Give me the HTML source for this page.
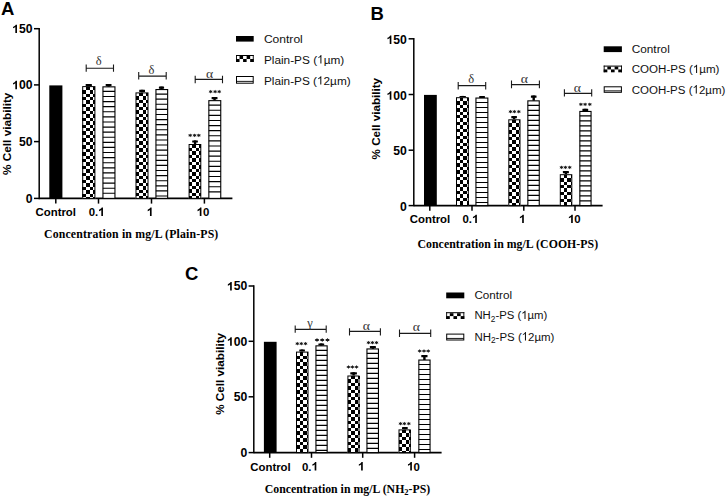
<!DOCTYPE html><html><head><meta charset="utf-8"><style>html,body{margin:0;padding:0;background:#fff;overflow:hidden}svg{display:block}</style></head><body>
<svg width="727" height="496" viewBox="0 0 727 496" shape-rendering="auto">
<rect width="727" height="496" fill="#fff"/>
<defs></defs>
<g>
<text x="1" y="14.6" font-family='"Liberation Sans", sans-serif' font-weight="bold" font-size="18.5">A</text>
<line x1="39.2" y1="27.95" x2="39.2" y2="199.15" stroke="#000" stroke-width="1.5"/>
<line x1="34" y1="198.4" x2="39.2" y2="198.4" stroke="#000" stroke-width="1.5"/>
<text x="25.715" y="202.8" font-family='"Liberation Sans", sans-serif' font-weight="bold" fill="#000" style="font-kerning:none"><tspan font-size="12.2">0</tspan></text>
<line x1="34" y1="141.6" x2="39.2" y2="141.6" stroke="#000" stroke-width="1.5"/>
<text x="18.93" y="146" font-family='"Liberation Sans", sans-serif' font-weight="bold" fill="#000" style="font-kerning:none"><tspan font-size="12.2">50</tspan></text>
<line x1="34" y1="84.9" x2="39.2" y2="84.9" stroke="#000" stroke-width="1.5"/>
<text x="12.145" y="89.3" font-family='"Liberation Sans", sans-serif' font-weight="bold" fill="#000" style="font-kerning:none"><tspan font-size="12.2"> 00</tspan></text><path transform="translate(12.145,89.3) scale(0.006,-0.006)" d="M806 0L530 0L530 1000Q380 865 152 790L152 1030Q272 1070 410 1175Q548 1280 600 1409L806 1409Z" fill="#000"/>
<line x1="34" y1="28.7" x2="39.2" y2="28.7" stroke="#000" stroke-width="1.5"/>
<text x="12.145" y="33.1" font-family='"Liberation Sans", sans-serif' font-weight="bold" fill="#000" style="font-kerning:none"><tspan font-size="12.2"> 50</tspan></text><path transform="translate(12.145,33.1) scale(0.006,-0.006)" d="M806 0L530 0L530 1000Q380 865 152 790L152 1030Q272 1070 410 1175Q548 1280 600 1409L806 1409Z" fill="#000"/>
<line x1="39.2" y1="198.4" x2="232.4" y2="198.4" stroke="#000" stroke-width="1.6"/>
<line x1="55.8" y1="198.4" x2="55.8" y2="203.6" stroke="#000" stroke-width="1.5"/>
<line x1="98.5" y1="198.4" x2="98.5" y2="203.6" stroke="#000" stroke-width="1.5"/>
<line x1="151.5" y1="198.4" x2="151.5" y2="203.6" stroke="#000" stroke-width="1.5"/>
<line x1="204.4" y1="198.4" x2="204.4" y2="203.6" stroke="#000" stroke-width="1.5"/>
<text x="35.488" y="215.9" font-family='"Liberation Sans", sans-serif' font-weight="bold" fill="#000" style="font-kerning:none"><tspan font-size="11.4">Control</tspan></text>
<text x="88.626" y="215.9" font-family='"Liberation Sans", sans-serif' font-weight="bold" fill="#000" style="font-kerning:none"><tspan font-size="11.4">0. </tspan></text><path transform="translate(98.134,215.9) scale(0.006,-0.006)" d="M806 0L530 0L530 1000Q380 865 152 790L152 1030Q272 1070 410 1175Q548 1280 600 1409L806 1409Z" fill="#000"/>
<text x="146.78" y="215.9" font-family='"Liberation Sans", sans-serif' font-weight="bold" fill="#000" style="font-kerning:none"><tspan font-size="11.4"> </tspan></text><path transform="translate(146.78,215.9) scale(0.006,-0.006)" d="M806 0L530 0L530 1000Q380 865 152 790L152 1030Q272 1070 410 1175Q548 1280 600 1409L806 1409Z" fill="#000"/>
<text x="196.61" y="215.9" font-family='"Liberation Sans", sans-serif' font-weight="bold" fill="#000" style="font-kerning:none"><tspan font-size="11.4"> 0</tspan></text><path transform="translate(196.61,215.9) scale(0.006,-0.006)" d="M806 0L530 0L530 1000Q380 865 152 790L152 1030Q272 1070 410 1175Q548 1280 600 1409L806 1409Z" fill="#000"/>
<text x="44" y="238.1" textLength="174.3" lengthAdjust="spacing" font-family='"Liberation Serif", serif' font-weight="bold" font-size="11.8">Concentration in mg/L (Plain-PS)</text>
<text transform="translate(11.3,174.9) rotate(-90)" x="0" y="0" textLength="82.3" lengthAdjust="spacingAndGlyphs" font-family='"Liberation Sans", sans-serif' font-weight="bold" font-size="11.7">% Cell viability</text>
<rect x="49.3" y="85.4" width="13.1" height="113" fill="#000"/>
<rect x="87.6" y="84.1" width="2.4" height="2.5" fill="#000"/>
<rect x="85.7" y="84.1" width="6.2" height="2.2" rx="0.3" fill="#000"/>
<rect x="82.2" y="86.1" width="13.2" height="112.3" fill="#fff"/>
<path d="M86 87H90V90H86ZM93 87H95V90H93ZM82 90H86V94H82ZM90 90H93V94H90ZM86 94H90V97H86ZM93 94H95V97H93ZM82 97H86V100H82ZM90 97H93V100H90ZM86 100H90V104H86ZM93 100H95V104H93ZM82 104H86V107H82ZM90 104H93V107H90ZM86 107H90V111H86ZM93 107H95V111H93ZM82 111H86V114H82ZM90 111H93V114H90ZM86 114H90V118H86ZM93 114H95V118H93ZM82 118H86V121H82ZM90 118H93V121H90ZM86 121H90V125H86ZM93 121H95V125H93ZM82 125H86V128H82ZM90 125H93V128H90ZM86 128H90V131H86ZM93 128H95V131H93ZM82 131H86V135H82ZM90 131H93V135H90ZM86 135H90V138H86ZM93 135H95V138H93ZM82 138H86V142H82ZM90 138H93V142H90ZM86 142H90V145H86ZM93 142H95V145H93ZM82 145H86V149H82ZM90 145H93V149H90ZM86 149H90V152H86ZM93 149H95V152H93ZM82 152H86V156H82ZM90 152H93V156H90ZM86 156H90V159H86ZM93 156H95V159H93ZM82 159H86V162H82ZM90 159H93V162H90ZM86 162H90V166H86ZM93 162H95V166H93ZM82 166H86V169H82ZM90 166H93V169H90ZM86 169H90V173H86ZM93 169H95V173H93ZM82 173H86V176H82ZM90 173H93V176H90ZM86 176H90V180H86ZM93 176H95V180H93ZM82 180H86V183H82ZM90 180H93V183H90ZM86 183H90V187H86ZM93 183H95V187H93ZM82 187H86V190H82ZM90 187H93V190H90ZM86 190H90V194H86ZM93 190H95V194H93ZM82 194H86V197H82ZM90 194H93V197H90ZM86 197H90V198H86ZM93 197H95V198H93Z" fill="#000" shape-rendering="crispEdges"/>
<rect x="82.7" y="86.6" width="12.2" height="111.8" fill="none" stroke="#000" stroke-width="1"/>
<rect x="107.4" y="84.1" width="2.4" height="2.7" fill="#000"/>
<rect x="105.7" y="84.1" width="5.8" height="2.2" rx="0.3" fill="#000"/>
<rect x="102.95" y="86.85" width="12" height="111.55" fill="#fff" stroke="#000" stroke-width="1.1"/>
<path d="M102.9 91.39H115M102.9 96.49H115M102.9 101.58H115M102.9 106.68H115M102.9 111.77H115M102.9 116.87H115M102.9 121.96H115M102.9 127.06H115M102.9 132.16H115M102.9 137.25H115M102.9 142.34H115M102.9 147.44H115M102.9 152.53H115M102.9 157.63H115M102.9 162.72H115M102.9 167.82H115M102.9 172.91H115M102.9 178.01H115M102.9 183.1H115M102.9 188.2H115M102.9 193.29H115" stroke="#000" stroke-width="1.15"/>
<rect x="140.9" y="89.8" width="2.4" height="3.1" fill="#000"/>
<rect x="139.2" y="89.8" width="5.8" height="2.2" rx="0.3" fill="#000"/>
<rect x="135.5" y="92.4" width="13" height="106" fill="#fff"/>
<path d="M139 93H143V96H139ZM146 93H148V96H146ZM136 96H139V100H136ZM143 96H146V100H143ZM139 100H143V103H139ZM146 100H148V103H146ZM136 103H139V107H136ZM143 103H146V107H143ZM139 107H143V110H139ZM146 107H148V110H146ZM136 110H139V114H136ZM143 110H146V114H143ZM139 114H143V117H139ZM146 114H148V117H146ZM136 117H139V120H136ZM143 117H146V120H143ZM139 120H143V124H139ZM146 120H148V124H146ZM136 124H139V127H136ZM143 124H146V127H143ZM139 127H143V131H139ZM146 127H148V131H146ZM136 131H139V134H136ZM143 131H146V134H143ZM139 134H143V138H139ZM146 134H148V138H146ZM136 138H139V141H136ZM143 138H146V141H143ZM139 141H143V145H139ZM146 141H148V145H146ZM136 145H139V148H136ZM143 145H146V148H143ZM139 148H143V152H139ZM146 148H148V152H146ZM136 152H139V155H136ZM143 152H146V155H143ZM139 155H143V158H139ZM146 155H148V158H146ZM136 158H139V162H136ZM143 158H146V162H143ZM139 162H143V165H139ZM146 162H148V165H146ZM136 165H139V169H136ZM143 165H146V169H143ZM139 169H143V172H139ZM146 169H148V172H146ZM136 172H139V176H136ZM143 172H146V176H143ZM139 176H143V179H139ZM146 176H148V179H146ZM136 179H139V183H136ZM143 179H146V183H143ZM139 183H143V186H139ZM146 183H148V186H146ZM136 186H139V190H136ZM143 186H146V190H143ZM139 190H143V193H139ZM146 190H148V193H146ZM136 193H139V196H136ZM143 193H146V196H143ZM139 196H143V198H139ZM146 196H148V198H146Z" fill="#000" shape-rendering="crispEdges"/>
<rect x="136" y="92.9" width="12" height="105.5" fill="none" stroke="#000" stroke-width="1"/>
<rect x="160.3" y="86.6" width="2.4" height="2.9" fill="#000"/>
<rect x="158.9" y="86.6" width="5.2" height="2.2" rx="0.3" fill="#000"/>
<rect x="155.95" y="89.55" width="11.7" height="108.85" fill="#fff" stroke="#000" stroke-width="1.1"/>
<path d="M155.9 94.09H167.7M155.9 99.19H167.7M155.9 104.28H167.7M155.9 109.38H167.7M155.9 114.47H167.7M155.9 119.57H167.7M155.9 124.66H167.7M155.9 129.76H167.7M155.9 134.85H167.7M155.9 139.95H167.7M155.9 145.04H167.7M155.9 150.14H167.7M155.9 155.23H167.7M155.9 160.33H167.7M155.9 165.42H167.7M155.9 170.52H167.7M155.9 175.61H167.7M155.9 180.71H167.7M155.9 185.8H167.7M155.9 190.9H167.7M155.9 195.99H167.7" stroke="#000" stroke-width="1.15"/>
<rect x="193.85" y="140.4" width="2.4" height="4.1" fill="#000"/>
<rect x="192.2" y="140.4" width="5.7" height="2.2" rx="0.3" fill="#000"/>
<rect x="188.6" y="144" width="12.7" height="54.4" fill="#fff"/>
<path d="M192 144H196V148H192ZM199 144H201V148H199ZM189 148H192V151H189ZM196 148H199V151H196ZM192 151H196V155H192ZM199 151H201V155H199ZM189 155H192V158H189ZM196 155H199V158H196ZM192 158H196V162H192ZM199 158H201V162H199ZM189 162H192V165H189ZM196 162H199V165H196ZM192 165H196V169H192ZM199 165H201V169H199ZM189 169H192V172H189ZM196 169H199V172H196ZM192 172H196V176H192ZM199 172H201V176H199ZM189 176H192V179H189ZM196 176H199V179H196ZM192 179H196V182H192ZM199 179H201V182H199ZM189 182H192V186H189ZM196 182H199V186H196ZM192 186H196V189H192ZM199 186H201V189H199ZM189 189H192V193H189ZM196 189H199V193H196ZM192 193H196V196H192ZM199 193H201V196H199ZM189 196H192V198H189ZM196 196H199V198H196Z" fill="#000" shape-rendering="crispEdges"/>
<rect x="189.1" y="144.5" width="11.7" height="53.9" fill="none" stroke="#000" stroke-width="1"/>
<rect x="213.35" y="97" width="2.4" height="3.6" fill="#000"/>
<rect x="211.6" y="97" width="5.9" height="2.2" rx="0.3" fill="#000"/>
<rect x="208.85" y="100.65" width="11.9" height="97.75" fill="#fff" stroke="#000" stroke-width="1.1"/>
<path d="M208.8 105.19H220.8M208.8 110.29H220.8M208.8 115.38H220.8M208.8 120.48H220.8M208.8 125.57H220.8M208.8 130.67H220.8M208.8 135.76H220.8M208.8 140.86H220.8M208.8 145.95H220.8M208.8 151.05H220.8M208.8 156.14H220.8M208.8 161.24H220.8M208.8 166.33H220.8M208.8 171.43H220.8M208.8 176.52H220.8M208.8 181.62H220.8M208.8 186.71H220.8M208.8 191.81H220.8" stroke="#000" stroke-width="1.15"/>
<path d="M86.2 68.3H113.5M86.2 64.4V71.8M113.5 64.4V71.8" stroke="#1a1a1a" stroke-width="1.1" fill="none"/>
<text x="98.6" y="65" text-anchor="middle" font-family='"Liberation Serif", serif' font-size="12.5" fill="#333">δ</text>
<path d="M138.7 76.1H166.2M138.7 72.1V79.6M166.2 72.1V79.6" stroke="#1a1a1a" stroke-width="1.1" fill="none"/>
<text x="151.5" y="73.8" text-anchor="middle" font-family='"Liberation Serif", serif' font-size="12.5" fill="#333">δ</text>
<path d="M195.2 79.4H222.5M195.2 75.7V83.3M222.5 75.7V83.3" stroke="#1a1a1a" stroke-width="1.1" fill="none"/>
<text transform="translate(209.6,77.9) scale(1.18,1)" x="0" y="0" text-anchor="middle" font-family='"Liberation Serif", serif' font-size="11.6" fill="#333">α</text>
<polygon points="190.2,133.41 190.82,134.44 192.24,134.36 191.43,135.3 192.24,136.25 190.82,136.16 190.2,137.19 189.58,136.16 188.16,136.25 188.97,135.3 188.16,134.36 189.58,134.44" fill="#1a1a1a"/>
<polygon points="194.6,133.41 195.22,134.44 196.64,134.36 195.83,135.3 196.64,136.25 195.22,136.16 194.6,137.19 193.98,136.16 192.56,136.25 193.37,135.3 192.56,134.36 193.98,134.44" fill="#1a1a1a"/>
<polygon points="198.8,133.41 199.42,134.44 200.84,134.36 200.03,135.3 200.84,136.25 199.42,136.16 198.8,137.19 198.18,136.16 196.76,136.25 197.57,135.3 196.76,134.36 198.18,134.44" fill="#1a1a1a"/>
<polygon points="210.7,89.71 211.32,90.74 212.74,90.66 211.93,91.6 212.74,92.54 211.32,92.46 210.7,93.49 210.08,92.46 208.66,92.54 209.47,91.6 208.66,90.66 210.08,90.74" fill="#1a1a1a"/>
<polygon points="215.1,89.71 215.72,90.74 217.14,90.66 216.33,91.6 217.14,92.54 215.72,92.46 215.1,93.49 214.48,92.46 213.06,92.54 213.87,91.6 213.06,90.66 214.48,90.74" fill="#1a1a1a"/>
<polygon points="219.2,89.71 219.82,90.74 221.24,90.66 220.43,91.6 221.24,92.54 219.82,92.46 219.2,93.49 218.58,92.46 217.16,92.54 217.97,91.6 217.16,90.66 218.58,90.74" fill="#1a1a1a"/>
<rect x="236" y="36" width="17.7" height="5.6" fill="#000"/>
<rect x="236" y="55" width="17.7" height="7" fill="#fff"/>
<rect x="236" y="55" width="17.7" height="1" fill="#000"/>
<rect x="236" y="55" width="0.9" height="7" fill="#000"/>
<rect x="252.8" y="55" width="0.9" height="7" fill="#000"/>
<rect x="236" y="59" width="3.54" height="3" fill="#000"/>
<rect x="239.54" y="56" width="3.54" height="3" fill="#000"/>
<rect x="243.08" y="59" width="3.54" height="3" fill="#000"/>
<rect x="246.62" y="56" width="3.54" height="3" fill="#000"/>
<rect x="250.16" y="59" width="3.54" height="3" fill="#000"/>
<rect x="236.5" y="76.5" width="16.7" height="6.7" fill="#fff" stroke="#000" stroke-width="1"/>
<line x1="236.5" y1="81.39" x2="253.2" y2="81.39" stroke="#000" stroke-width="0.9"/>
<text x="263.9" y="43" textLength="38.9" lengthAdjust="spacingAndGlyphs" font-family='"Liberation Sans", sans-serif' fill="#111" style="font-kerning:none"><tspan font-size="11.7">Control</tspan></text>
<text x="263.9" y="63.5" textLength="80.4" lengthAdjust="spacingAndGlyphs" font-family='"Liberation Sans", sans-serif' fill="#111" style="font-kerning:none"><tspan font-size="11.7">Plain-PS ( µm)</tspan></text><path transform="translate(317.125,63.5) scale(0.006,-0.006)" d="M716 0L544 0L544 1100Q482 1040 381 980Q280 921 200 891L200 1058Q345 1126 454 1223Q563 1320 608 1409L716 1409Z" fill="#111"/>
<text x="263.9" y="84.6" textLength="86.8" lengthAdjust="spacingAndGlyphs" font-family='"Liberation Sans", sans-serif' fill="#111" style="font-kerning:none"><tspan font-size="11.7">Plain-PS ( 2µm)</tspan></text><path transform="translate(317.017,84.6) scale(0.006,-0.006)" d="M716 0L544 0L544 1100Q482 1040 381 980Q280 921 200 891L200 1058Q345 1126 454 1223Q563 1320 608 1409L716 1409Z" fill="#111"/>
</g>
<g>
<text x="370.4" y="20.1" font-family='"Liberation Sans", sans-serif' font-weight="bold" font-size="18.5">B</text>
<line x1="413.8" y1="38.05" x2="413.8" y2="206.35" stroke="#000" stroke-width="1.5"/>
<line x1="408.6" y1="205.6" x2="413.8" y2="205.6" stroke="#000" stroke-width="1.5"/>
<text x="400.115" y="210.8" font-family='"Liberation Sans", sans-serif' font-weight="bold" fill="#000" style="font-kerning:none"><tspan font-size="12.2">0</tspan></text>
<line x1="408.6" y1="150.2" x2="413.8" y2="150.2" stroke="#000" stroke-width="1.5"/>
<text x="393.33" y="155.4" font-family='"Liberation Sans", sans-serif' font-weight="bold" fill="#000" style="font-kerning:none"><tspan font-size="12.2">50</tspan></text>
<line x1="408.6" y1="94.5" x2="413.8" y2="94.5" stroke="#000" stroke-width="1.5"/>
<text x="386.545" y="99.7" font-family='"Liberation Sans", sans-serif' font-weight="bold" fill="#000" style="font-kerning:none"><tspan font-size="12.2"> 00</tspan></text><path transform="translate(386.545,99.7) scale(0.006,-0.006)" d="M806 0L530 0L530 1000Q380 865 152 790L152 1030Q272 1070 410 1175Q548 1280 600 1409L806 1409Z" fill="#000"/>
<line x1="408.6" y1="38.8" x2="413.8" y2="38.8" stroke="#000" stroke-width="1.5"/>
<text x="386.545" y="44" font-family='"Liberation Sans", sans-serif' font-weight="bold" fill="#000" style="font-kerning:none"><tspan font-size="12.2"> 50</tspan></text><path transform="translate(386.545,44) scale(0.006,-0.006)" d="M806 0L530 0L530 1000Q380 865 152 790L152 1030Q272 1070 410 1175Q548 1280 600 1409L806 1409Z" fill="#000"/>
<line x1="413.8" y1="205.6" x2="602.6" y2="205.6" stroke="#000" stroke-width="1.6"/>
<line x1="429.8" y1="205.6" x2="429.8" y2="210.8" stroke="#000" stroke-width="1.5"/>
<line x1="472" y1="205.6" x2="472" y2="210.8" stroke="#000" stroke-width="1.5"/>
<line x1="523.8" y1="205.6" x2="523.8" y2="210.8" stroke="#000" stroke-width="1.5"/>
<line x1="575" y1="205.6" x2="575" y2="210.8" stroke="#000" stroke-width="1.5"/>
<text x="409.738" y="223.1" font-family='"Liberation Sans", sans-serif' font-weight="bold" fill="#000" style="font-kerning:none"><tspan font-size="11.4">Control</tspan></text>
<text x="462.526" y="223.1" font-family='"Liberation Sans", sans-serif' font-weight="bold" fill="#000" style="font-kerning:none"><tspan font-size="11.4">0. </tspan></text><path transform="translate(472.034,223.1) scale(0.006,-0.006)" d="M806 0L530 0L530 1000Q380 865 152 790L152 1030Q272 1070 410 1175Q548 1280 600 1409L806 1409Z" fill="#000"/>
<text x="518.98" y="223.1" font-family='"Liberation Sans", sans-serif' font-weight="bold" fill="#000" style="font-kerning:none"><tspan font-size="11.4"> </tspan></text><path transform="translate(518.98,223.1) scale(0.006,-0.006)" d="M806 0L530 0L530 1000Q380 865 152 790L152 1030Q272 1070 410 1175Q548 1280 600 1409L806 1409Z" fill="#000"/>
<text x="567.96" y="223.1" font-family='"Liberation Sans", sans-serif' font-weight="bold" fill="#000" style="font-kerning:none"><tspan font-size="11.4"> 0</tspan></text><path transform="translate(567.96,223.1) scale(0.006,-0.006)" d="M806 0L530 0L530 1000Q380 865 152 790L152 1030Q272 1070 410 1175Q548 1280 600 1409L806 1409Z" fill="#000"/>
<text x="417.5" y="247.5" textLength="180.6" lengthAdjust="spacing" font-family='"Liberation Serif", serif' font-weight="bold" font-size="11.8">Concentration in mg/L (COOH-PS)</text>
<text transform="translate(380.2,159.4) rotate(-90)" x="0" y="0" textLength="81.5" lengthAdjust="spacingAndGlyphs" font-family='"Liberation Sans", sans-serif' font-weight="bold" font-size="11.7">% Cell viability</text>
<rect x="424" y="94.9" width="12.8" height="110.7" fill="#000"/>
<rect x="461.5" y="95.9" width="2.4" height="1.8" fill="#000"/>
<rect x="459.5" y="95.9" width="6.4" height="2.2" rx="0.3" fill="#000"/>
<rect x="456" y="97.2" width="12.8" height="108.4" fill="#fff"/>
<path d="M460 98H463V101H460ZM467 98H469V101H467ZM456 101H460V105H456ZM463 101H467V105H463ZM460 105H463V108H460ZM467 105H469V108H467ZM456 108H460V112H456ZM463 108H467V112H463ZM460 112H463V115H460ZM467 112H469V115H467ZM456 115H460V118H456ZM463 115H467V118H463ZM460 118H463V122H460ZM467 118H469V122H467ZM456 122H460V125H456ZM463 122H467V125H463ZM460 125H463V129H460ZM467 125H469V129H467ZM456 129H460V132H456ZM463 129H467V132H463ZM460 132H463V136H460ZM467 132H469V136H467ZM456 136H460V139H456ZM463 136H467V139H463ZM460 139H463V143H460ZM467 139H469V143H467ZM456 143H460V146H456ZM463 143H467V146H463ZM460 146H463V149H460ZM467 146H469V149H467ZM456 149H460V153H456ZM463 149H467V153H463ZM460 153H463V156H460ZM467 153H469V156H467ZM456 156H460V160H456ZM463 156H467V160H463ZM460 160H463V163H460ZM467 160H469V163H467ZM456 163H460V167H456ZM463 163H467V167H463ZM460 167H463V170H460ZM467 167H469V170H467ZM456 170H460V174H456ZM463 170H467V174H463ZM460 174H463V177H460ZM467 174H469V177H467ZM456 177H460V180H456ZM463 177H467V180H463ZM460 180H463V184H460ZM467 180H469V184H467ZM456 184H460V187H456ZM463 184H467V187H463ZM460 187H463V191H460ZM467 187H469V191H467ZM456 191H460V194H456ZM463 191H467V194H463ZM460 194H463V198H460ZM467 194H469V198H467ZM456 198H460V201H456ZM463 198H467V201H463ZM460 201H463V205H460ZM467 201H469V205H467ZM456 205H460V206H456ZM463 205H467V206H463Z" fill="#000" shape-rendering="crispEdges"/>
<rect x="456.5" y="97.7" width="11.8" height="107.9" fill="none" stroke="#000" stroke-width="1"/>
<rect x="480.85" y="96" width="2.4" height="2" fill="#000"/>
<rect x="479.2" y="96" width="5.7" height="2.2" rx="0.3" fill="#000"/>
<rect x="475.95" y="98.05" width="11.9" height="107.55" fill="#fff" stroke="#000" stroke-width="1.1"/>
<path d="M475.9 102.5H487.9M475.9 107.5H487.9M475.9 112.5H487.9M475.9 117.5H487.9M475.9 122.5H487.9M475.9 127.5H487.9M475.9 132.5H487.9M475.9 137.5H487.9M475.9 142.5H487.9M475.9 147.5H487.9M475.9 152.5H487.9M475.9 157.5H487.9M475.9 162.5H487.9M475.9 167.5H487.9M475.9 172.5H487.9M475.9 177.5H487.9M475.9 182.5H487.9M475.9 187.5H487.9M475.9 192.5H487.9M475.9 197.5H487.9M475.9 202.5H487.9" stroke="#000" stroke-width="1.15"/>
<rect x="512.9" y="116" width="2.4" height="3.8" fill="#000"/>
<rect x="511.3" y="116" width="5.6" height="2.2" rx="0.3" fill="#000"/>
<rect x="508.3" y="119.3" width="12.2" height="86.3" fill="#fff"/>
<path d="M512 120H516V123H512ZM519 120H520V123H519ZM509 123H512V127H509ZM516 123H519V127H516ZM512 127H516V130H512ZM519 127H520V130H519ZM509 130H512V134H509ZM516 130H519V134H516ZM512 134H516V137H512ZM519 134H520V137H519ZM509 137H512V140H509ZM516 137H519V140H516ZM512 140H516V144H512ZM519 140H520V144H519ZM509 144H512V147H509ZM516 144H519V147H516ZM512 147H516V151H512ZM519 147H520V151H519ZM509 151H512V154H509ZM516 151H519V154H516ZM512 154H516V158H512ZM519 154H520V158H519ZM509 158H512V161H509ZM516 158H519V161H516ZM512 161H516V165H512ZM519 161H520V165H519ZM509 165H512V168H509ZM516 165H519V168H516ZM512 168H516V172H512ZM519 168H520V172H519ZM509 172H512V175H509ZM516 172H519V175H516ZM512 175H516V178H512ZM519 175H520V178H519ZM509 178H512V182H509ZM516 178H519V182H516ZM512 182H516V185H512ZM519 182H520V185H519ZM509 185H512V189H509ZM516 185H519V189H516ZM512 189H516V192H512ZM519 189H520V192H519ZM509 192H512V196H509ZM516 192H519V196H516ZM512 196H516V199H512ZM519 196H520V199H519ZM509 199H512V203H509ZM516 199H519V203H516ZM512 203H516V206H512ZM519 203H520V206H519Z" fill="#000" shape-rendering="crispEdges"/>
<rect x="508.8" y="119.8" width="11.2" height="85.8" fill="none" stroke="#000" stroke-width="1"/>
<rect x="532.5" y="95.5" width="2.4" height="5.3" fill="#000"/>
<rect x="530.9" y="95.5" width="5.6" height="2.2" rx="0.3" fill="#000"/>
<rect x="527.85" y="100.85" width="11.4" height="104.75" fill="#fff" stroke="#000" stroke-width="1.1"/>
<path d="M527.8 105.3H539.3M527.8 110.3H539.3M527.8 115.3H539.3M527.8 120.3H539.3M527.8 125.3H539.3M527.8 130.3H539.3M527.8 135.3H539.3M527.8 140.3H539.3M527.8 145.3H539.3M527.8 150.3H539.3M527.8 155.3H539.3M527.8 160.3H539.3M527.8 165.3H539.3M527.8 170.3H539.3M527.8 175.3H539.3M527.8 180.3H539.3M527.8 185.3H539.3M527.8 190.3H539.3M527.8 195.3H539.3M527.8 200.3H539.3" stroke="#000" stroke-width="1.15"/>
<rect x="564.7" y="171.1" width="2.4" height="3.6" fill="#000"/>
<rect x="562.9" y="171.1" width="6" height="2.2" rx="0.3" fill="#000"/>
<rect x="559.8" y="174.2" width="12.5" height="31.4" fill="#fff"/>
<path d="M564 175H567V178H564ZM571 175H572V178H571ZM560 178H564V182H560ZM567 178H571V182H567ZM564 182H567V185H564ZM571 182H572V185H571ZM560 185H564V188H560ZM567 185H571V188H567ZM564 188H567V192H564ZM571 188H572V192H571ZM560 192H564V195H560ZM567 192H571V195H567ZM564 195H567V199H564ZM571 195H572V199H571ZM560 199H564V202H560ZM567 199H571V202H567ZM564 202H567V206H564ZM571 202H572V206H571Z" fill="#000" shape-rendering="crispEdges"/>
<rect x="560.3" y="174.7" width="11.5" height="30.9" fill="none" stroke="#000" stroke-width="1"/>
<rect x="584.1" y="108.8" width="2.4" height="2.6" fill="#000"/>
<rect x="582.4" y="108.8" width="5.8" height="2.2" rx="0.3" fill="#000"/>
<rect x="579.85" y="111.45" width="11.2" height="94.15" fill="#fff" stroke="#000" stroke-width="1.1"/>
<path d="M579.8 115.9H591.1M579.8 120.9H591.1M579.8 125.9H591.1M579.8 130.9H591.1M579.8 135.9H591.1M579.8 140.9H591.1M579.8 145.9H591.1M579.8 150.9H591.1M579.8 155.9H591.1M579.8 160.9H591.1M579.8 165.9H591.1M579.8 170.9H591.1M579.8 175.9H591.1M579.8 180.9H591.1M579.8 185.9H591.1M579.8 190.9H591.1M579.8 195.9H591.1M579.8 200.9H591.1" stroke="#000" stroke-width="1.15"/>
<path d="M458.2 85.6H485.7M458.2 81.9V89.6M485.7 81.9V89.6" stroke="#1a1a1a" stroke-width="1.1" fill="none"/>
<text x="471.2" y="83.1" text-anchor="middle" font-family='"Liberation Serif", serif' font-size="12.5" fill="#333">δ</text>
<path d="M511.5 84.6H539.4M511.5 80.6V88.3M539.4 80.6V88.3" stroke="#1a1a1a" stroke-width="1.1" fill="none"/>
<text transform="translate(524.4,82.9) scale(1.18,1)" x="0" y="0" text-anchor="middle" font-family='"Liberation Serif", serif' font-size="11.6" fill="#333">α</text>
<path d="M564.4 93.4H591.7M564.4 89.2V96.6M591.7 89.2V96.6" stroke="#1a1a1a" stroke-width="1.1" fill="none"/>
<text transform="translate(577.4,92.1) scale(1.18,1)" x="0" y="0" text-anchor="middle" font-family='"Liberation Serif", serif' font-size="11.6" fill="#333">α</text>
<polygon points="510.5,109.71 511.12,110.74 512.54,110.66 511.73,111.6 512.54,112.54 511.12,112.46 510.5,113.49 509.88,112.46 508.46,112.54 509.27,111.6 508.46,110.66 509.88,110.74" fill="#1a1a1a"/>
<polygon points="514.4,109.71 515.02,110.74 516.44,110.66 515.63,111.6 516.44,112.54 515.02,112.46 514.4,113.49 513.78,112.46 512.36,112.54 513.17,111.6 512.36,110.66 513.78,110.74" fill="#1a1a1a"/>
<polygon points="518.8,109.71 519.42,110.74 520.84,110.66 520.03,111.6 520.84,112.54 519.42,112.46 518.8,113.49 518.18,112.46 516.76,112.54 517.57,111.6 516.76,110.66 518.18,110.74" fill="#1a1a1a"/>
<polygon points="561.5,165.51 562.12,166.54 563.54,166.46 562.73,167.4 563.54,168.34 562.12,168.26 561.5,169.29 560.88,168.26 559.46,168.34 560.27,167.4 559.46,166.46 560.88,166.54" fill="#1a1a1a"/>
<polygon points="565.4,165.51 566.02,166.54 567.44,166.46 566.63,167.4 567.44,168.34 566.02,168.26 565.4,169.29 564.78,168.26 563.36,168.34 564.17,167.4 563.36,166.46 564.78,166.54" fill="#1a1a1a"/>
<polygon points="569.7,165.51 570.32,166.54 571.74,166.46 570.93,167.4 571.74,168.34 570.32,168.26 569.7,169.29 569.08,168.26 567.66,168.34 568.47,167.4 567.66,166.46 569.08,166.54" fill="#1a1a1a"/>
<polygon points="580.9,102.41 581.52,103.44 582.94,103.36 582.13,104.3 582.94,105.24 581.52,105.16 580.9,106.19 580.28,105.16 578.86,105.24 579.67,104.3 578.86,103.35 580.28,103.44" fill="#1a1a1a"/>
<polygon points="585.1,102.41 585.72,103.44 587.14,103.36 586.33,104.3 587.14,105.24 585.72,105.16 585.1,106.19 584.48,105.16 583.06,105.24 583.87,104.3 583.06,103.35 584.48,103.44" fill="#1a1a1a"/>
<polygon points="589.8,102.41 590.42,103.44 591.84,103.36 591.03,104.3 591.84,105.24 590.42,105.16 589.8,106.19 589.18,105.16 587.76,105.24 588.57,104.3 587.76,103.35 589.18,103.44" fill="#1a1a1a"/>
<rect x="603.7" y="46.3" width="18.2" height="5.8" fill="#000"/>
<rect x="603.7" y="65.6" width="18.2" height="6.7" fill="#fff"/>
<rect x="603.7" y="65.6" width="18.2" height="1" fill="#000"/>
<rect x="603.7" y="65.6" width="0.9" height="6.7" fill="#000"/>
<rect x="621" y="65.6" width="0.9" height="6.7" fill="#000"/>
<rect x="603.7" y="69.45" width="3.64" height="2.85" fill="#000"/>
<rect x="607.34" y="66.6" width="3.64" height="2.85" fill="#000"/>
<rect x="610.98" y="69.45" width="3.64" height="2.85" fill="#000"/>
<rect x="614.62" y="66.6" width="3.64" height="2.85" fill="#000"/>
<rect x="618.26" y="69.45" width="3.64" height="2.85" fill="#000"/>
<rect x="604.2" y="86.8" width="17.2" height="5.5" fill="#fff" stroke="#000" stroke-width="1"/>
<line x1="604.2" y1="90.85" x2="621.4" y2="90.85" stroke="#000" stroke-width="0.9"/>
<text x="631.7" y="53.2" textLength="38.1" lengthAdjust="spacingAndGlyphs" font-family='"Liberation Sans", sans-serif' fill="#111" style="font-kerning:none"><tspan font-size="11.7">Control</tspan></text>
<text x="631.7" y="73.1" textLength="87.7" lengthAdjust="spacingAndGlyphs" font-family='"Liberation Sans", sans-serif' fill="#111" style="font-kerning:none"><tspan font-size="11.7">COOH-PS ( µm)</tspan></text><path transform="translate(692.795,73.1) scale(0.006,-0.006)" d="M716 0L544 0L544 1100Q482 1040 381 980Q280 921 200 891L200 1058Q345 1126 454 1223Q563 1320 608 1409L716 1409Z" fill="#111"/>
<text x="631.7" y="93.5" textLength="93.7" lengthAdjust="spacingAndGlyphs" font-family='"Liberation Sans", sans-serif' fill="#111" style="font-kerning:none"><tspan font-size="11.7">COOH-PS ( 2µm)</tspan></text><path transform="translate(692.511,93.5) scale(0.006,-0.006)" d="M716 0L544 0L544 1100Q482 1040 381 980Q280 921 200 891L200 1058Q345 1126 454 1223Q563 1320 608 1409L716 1409Z" fill="#111"/>
</g>
<g>
<text x="185" y="279.6" font-family='"Liberation Sans", sans-serif' font-weight="bold" font-size="18.5">C</text>
<line x1="253.8" y1="285.25" x2="253.8" y2="453.35" stroke="#000" stroke-width="1.5"/>
<line x1="248.6" y1="452.6" x2="253.8" y2="452.6" stroke="#000" stroke-width="1.5"/>
<text x="240.515" y="457" font-family='"Liberation Sans", sans-serif' font-weight="bold" fill="#000" style="font-kerning:none"><tspan font-size="12.2">0</tspan></text>
<line x1="248.6" y1="396.8" x2="253.8" y2="396.8" stroke="#000" stroke-width="1.5"/>
<text x="233.73" y="401.2" font-family='"Liberation Sans", sans-serif' font-weight="bold" fill="#000" style="font-kerning:none"><tspan font-size="12.2">50</tspan></text>
<line x1="248.6" y1="341.3" x2="253.8" y2="341.3" stroke="#000" stroke-width="1.5"/>
<text x="226.945" y="345.7" font-family='"Liberation Sans", sans-serif' font-weight="bold" fill="#000" style="font-kerning:none"><tspan font-size="12.2"> 00</tspan></text><path transform="translate(226.945,345.7) scale(0.006,-0.006)" d="M806 0L530 0L530 1000Q380 865 152 790L152 1030Q272 1070 410 1175Q548 1280 600 1409L806 1409Z" fill="#000"/>
<line x1="248.6" y1="286" x2="253.8" y2="286" stroke="#000" stroke-width="1.5"/>
<text x="226.945" y="290.4" font-family='"Liberation Sans", sans-serif' font-weight="bold" fill="#000" style="font-kerning:none"><tspan font-size="12.2"> 50</tspan></text><path transform="translate(226.945,290.4) scale(0.006,-0.006)" d="M806 0L530 0L530 1000Q380 865 152 790L152 1030Q272 1070 410 1175Q548 1280 600 1409L806 1409Z" fill="#000"/>
<line x1="253.8" y1="452.6" x2="441.6" y2="452.6" stroke="#000" stroke-width="1.6"/>
<line x1="269.7" y1="452.6" x2="269.7" y2="457.8" stroke="#000" stroke-width="1.5"/>
<line x1="311.5" y1="452.6" x2="311.5" y2="457.8" stroke="#000" stroke-width="1.5"/>
<line x1="362.7" y1="452.6" x2="362.7" y2="457.8" stroke="#000" stroke-width="1.5"/>
<line x1="414.6" y1="452.6" x2="414.6" y2="457.8" stroke="#000" stroke-width="1.5"/>
<text x="250.238" y="470.5" font-family='"Liberation Sans", sans-serif' font-weight="bold" fill="#000" style="font-kerning:none"><tspan font-size="11.4">Control</tspan></text>
<text x="301.976" y="470.5" font-family='"Liberation Sans", sans-serif' font-weight="bold" fill="#000" style="font-kerning:none"><tspan font-size="11.4">0. </tspan></text><path transform="translate(311.484,470.5) scale(0.006,-0.006)" d="M806 0L530 0L530 1000Q380 865 152 790L152 1030Q272 1070 410 1175Q548 1280 600 1409L806 1409Z" fill="#000"/>
<text x="357.93" y="470.5" font-family='"Liberation Sans", sans-serif' font-weight="bold" fill="#000" style="font-kerning:none"><tspan font-size="11.4"> </tspan></text><path transform="translate(357.93,470.5) scale(0.006,-0.006)" d="M806 0L530 0L530 1000Q380 865 152 790L152 1030Q272 1070 410 1175Q548 1280 600 1409L806 1409Z" fill="#000"/>
<text x="407.06" y="470.5" font-family='"Liberation Sans", sans-serif' font-weight="bold" fill="#000" style="font-kerning:none"><tspan font-size="11.4"> 0</tspan></text><path transform="translate(407.06,470.5) scale(0.006,-0.006)" d="M806 0L530 0L530 1000Q380 865 152 790L152 1030Q272 1070 410 1175Q548 1280 600 1409L806 1409Z" fill="#000"/>
<text x="264.7" y="492.5" textLength="165.6" lengthAdjust="spacing" font-family='"Liberation Serif", serif' font-weight="bold" font-size="11.8">Concentration in mg/L (NH<tspan font-size="8.5" dy="2.6">2</tspan><tspan dy="-2.6">-PS)</tspan></text>
<text transform="translate(224.3,414.8) rotate(-90)" x="0" y="0" textLength="81.9" lengthAdjust="spacingAndGlyphs" font-family='"Liberation Sans", sans-serif' font-weight="bold" font-size="11.7">% Cell viability</text>
<rect x="263.9" y="341.8" width="12.7" height="110.8" fill="#000"/>
<rect x="300.9" y="349.5" width="2.4" height="2.6" fill="#000"/>
<rect x="299.3" y="349.5" width="5.6" height="2.2" rx="0.3" fill="#000"/>
<rect x="296" y="351.6" width="12.5" height="101" fill="#fff"/>
<path d="M300 352H303V356H300ZM307 352H308V356H307ZM296 356H300V359H296ZM303 356H307V359H303ZM300 359H303V362H300ZM307 359H308V362H307ZM296 362H300V366H296ZM303 362H307V366H303ZM300 366H303V369H300ZM307 366H308V369H307ZM296 369H300V373H296ZM303 369H307V373H303ZM300 373H303V376H300ZM307 373H308V376H307ZM296 376H300V380H296ZM303 376H307V380H303ZM300 380H303V383H300ZM307 380H308V383H307ZM296 383H300V387H296ZM303 383H307V387H303ZM300 387H303V390H300ZM307 387H308V390H307ZM296 390H300V394H296ZM303 390H307V394H303ZM300 394H303V397H300ZM307 394H308V397H307ZM296 397H300V400H296ZM303 397H307V400H303ZM300 400H303V404H300ZM307 400H308V404H307ZM296 404H300V407H296ZM303 404H307V407H303ZM300 407H303V411H300ZM307 407H308V411H307ZM296 411H300V414H296ZM303 411H307V414H303ZM300 414H303V418H300ZM307 414H308V418H307ZM296 418H300V421H296ZM303 418H307V421H303ZM300 421H303V425H300ZM307 421H308V425H307ZM296 425H300V428H296ZM303 425H307V428H303ZM300 428H303V431H300ZM307 428H308V431H307ZM296 431H300V435H296ZM303 431H307V435H303ZM300 435H303V438H300ZM307 435H308V438H307ZM296 438H300V442H296ZM303 438H307V442H303ZM300 442H303V445H300ZM307 442H308V445H307ZM296 445H300V449H296ZM303 445H307V449H303ZM300 449H303V452H300ZM307 449H308V452H307ZM296 452H300V453H296ZM303 452H307V453H303Z" fill="#000" shape-rendering="crispEdges"/>
<rect x="296.5" y="352.1" width="11.5" height="100.5" fill="none" stroke="#000" stroke-width="1"/>
<rect x="320.1" y="343.4" width="2.4" height="2.4" fill="#000"/>
<rect x="318.4" y="343.4" width="5.8" height="2.2" rx="0.3" fill="#000"/>
<rect x="315.95" y="345.85" width="11.2" height="106.75" fill="#fff" stroke="#000" stroke-width="1.1"/>
<path d="M315.9 350.3H327.2M315.9 355.3H327.2M315.9 360.3H327.2M315.9 365.3H327.2M315.9 370.3H327.2M315.9 375.3H327.2M315.9 380.3H327.2M315.9 385.3H327.2M315.9 390.3H327.2M315.9 395.3H327.2M315.9 400.3H327.2M315.9 405.3H327.2M315.9 410.3H327.2M315.9 415.3H327.2M315.9 420.3H327.2M315.9 425.3H327.2M315.9 430.3H327.2M315.9 435.3H327.2M315.9 440.3H327.2M315.9 445.3H327.2M315.9 450.3H327.2" stroke="#000" stroke-width="1.15"/>
<rect x="352.4" y="372.2" width="2.4" height="3.8" fill="#000"/>
<rect x="350.3" y="372.2" width="6.6" height="2.2" rx="0.3" fill="#000"/>
<rect x="347.4" y="375.5" width="12.1" height="77.1" fill="#fff"/>
<path d="M351 376H355V379H351ZM358 376H360V379H358ZM348 379H351V383H348ZM355 379H358V383H355ZM351 383H355V386H351ZM358 383H360V386H358ZM348 386H351V390H348ZM355 386H358V390H355ZM351 390H355V393H351ZM358 390H360V393H358ZM348 393H351V397H348ZM355 393H358V397H355ZM351 397H355V400H351ZM358 397H360V400H358ZM348 400H351V404H348ZM355 400H358V404H355ZM351 404H355V407H351ZM358 404H360V407H358ZM348 407H351V410H348ZM355 407H358V410H355ZM351 410H355V414H351ZM358 410H360V414H358ZM348 414H351V417H348ZM355 414H358V417H355ZM351 417H355V421H351ZM358 417H360V421H358ZM348 421H351V424H348ZM355 421H358V424H355ZM351 424H355V428H351ZM358 424H360V428H358ZM348 428H351V431H348ZM355 428H358V431H355ZM351 431H355V435H351ZM358 431H360V435H358ZM348 435H351V438H348ZM355 435H358V438H355ZM351 438H355V442H351ZM358 438H360V442H358ZM348 442H351V445H348ZM355 442H358V445H355ZM351 445H355V448H351ZM358 445H360V448H358ZM348 448H351V452H348ZM355 448H358V452H355ZM351 452H355V453H351ZM358 452H360V453H358Z" fill="#000" shape-rendering="crispEdges"/>
<rect x="347.9" y="376" width="11.1" height="76.6" fill="none" stroke="#000" stroke-width="1"/>
<rect x="371.7" y="346.1" width="2.4" height="2.8" fill="#000"/>
<rect x="369.9" y="346.1" width="6" height="2.2" rx="0.3" fill="#000"/>
<rect x="366.95" y="348.95" width="11.5" height="103.65" fill="#fff" stroke="#000" stroke-width="1.1"/>
<path d="M366.9 353.4H378.5M366.9 358.4H378.5M366.9 363.4H378.5M366.9 368.4H378.5M366.9 373.4H378.5M366.9 378.4H378.5M366.9 383.4H378.5M366.9 388.4H378.5M366.9 393.4H378.5M366.9 398.4H378.5M366.9 403.4H378.5M366.9 408.4H378.5M366.9 413.4H378.5M366.9 418.4H378.5M366.9 423.4H378.5M366.9 428.4H378.5M366.9 433.4H378.5M366.9 438.4H378.5M366.9 443.4H378.5M366.9 448.4H378.5" stroke="#000" stroke-width="1.15"/>
<rect x="403.65" y="427.1" width="2.4" height="2.8" fill="#000"/>
<rect x="402" y="427.1" width="5.7" height="2.2" rx="0.3" fill="#000"/>
<rect x="398.5" y="429.4" width="12.3" height="23.2" fill="#fff"/>
<path d="M402 430H406V433H402ZM409 430H411V433H409ZM399 433H402V437H399ZM406 433H409V437H406ZM402 437H406V440H402ZM409 437H411V440H409ZM399 440H402V444H399ZM406 440H409V444H406ZM402 444H406V447H402ZM409 444H411V447H409ZM399 447H402V451H399ZM406 447H409V451H406ZM402 451H406V453H402ZM409 451H411V453H409Z" fill="#000" shape-rendering="crispEdges"/>
<rect x="399" y="429.9" width="11.3" height="22.7" fill="none" stroke="#000" stroke-width="1"/>
<rect x="423.2" y="355.1" width="2.4" height="4.9" fill="#000"/>
<rect x="421.3" y="355.1" width="6.2" height="2.2" rx="0.3" fill="#000"/>
<rect x="418.85" y="360.05" width="11.2" height="92.55" fill="#fff" stroke="#000" stroke-width="1.1"/>
<path d="M418.8 364.5H430.1M418.8 369.5H430.1M418.8 374.5H430.1M418.8 379.5H430.1M418.8 384.5H430.1M418.8 389.5H430.1M418.8 394.5H430.1M418.8 399.5H430.1M418.8 404.5H430.1M418.8 409.5H430.1M418.8 414.5H430.1M418.8 419.5H430.1M418.8 424.5H430.1M418.8 429.5H430.1M418.8 434.5H430.1M418.8 439.5H430.1M418.8 444.5H430.1M418.8 449.5H430.1" stroke="#000" stroke-width="1.15"/>
<path d="M295.2 329.35H326.2M295.2 325.4V332.8M326.2 325.4V332.8" stroke="#1a1a1a" stroke-width="1.1" fill="none"/>
<text x="309.9" y="327.4" text-anchor="middle" font-family='"Liberation Serif", serif' font-size="12.5" fill="#333">γ</text>
<path d="M349.5 331.4H380.4M349.5 328.2V335.6M380.4 328.2V335.6" stroke="#1a1a1a" stroke-width="1.1" fill="none"/>
<text transform="translate(366.3,329.9) scale(1.18,1)" x="0" y="0" text-anchor="middle" font-family='"Liberation Serif", serif' font-size="11.6" fill="#333">α</text>
<path d="M399.5 333.35H430.7M399.5 329.4V337.1M430.7 329.4V337.1" stroke="#1a1a1a" stroke-width="1.1" fill="none"/>
<text transform="translate(416.4,330.9) scale(1.18,1)" x="0" y="0" text-anchor="middle" font-family='"Liberation Serif", serif' font-size="11.6" fill="#333">α</text>
<polygon points="297.3,341.71 297.92,342.74 299.34,342.66 298.53,343.6 299.34,344.55 297.92,344.46 297.3,345.49 296.68,344.46 295.26,344.55 296.07,343.6 295.26,342.66 296.68,342.74" fill="#1a1a1a"/>
<polygon points="301.3,341.71 301.92,342.74 303.34,342.66 302.53,343.6 303.34,344.55 301.92,344.46 301.3,345.49 300.68,344.46 299.26,344.55 300.07,343.6 299.26,342.66 300.68,342.74" fill="#1a1a1a"/>
<polygon points="305.5,341.71 306.12,342.74 307.54,342.66 306.73,343.6 307.54,344.55 306.12,344.46 305.5,345.49 304.88,344.46 303.46,344.55 304.27,343.6 303.46,342.66 304.88,342.74" fill="#1a1a1a"/>
<polygon points="317,337.88 317.69,339.04 319.28,338.94 318.38,340 319.28,341.06 317.69,340.96 317,342.12 316.31,340.96 314.72,341.06 315.62,340 314.72,338.94 316.31,339.04" fill="#1a1a1a"/>
<polygon points="322.2,337.88 322.89,339.04 324.48,338.94 323.58,340 324.48,341.06 322.89,340.96 322.2,342.12 321.51,340.96 319.92,341.06 320.82,340 319.92,338.94 321.51,339.04" fill="#1a1a1a"/>
<polygon points="327.5,337.88 328.19,339.04 329.78,338.94 328.88,340 329.78,341.06 328.19,340.96 327.5,342.12 326.81,340.96 325.22,341.06 326.12,340 325.22,338.94 326.81,339.04" fill="#1a1a1a"/>
<polygon points="348.5,365.11 349.12,366.14 350.54,366.06 349.73,367 350.54,367.94 349.12,367.86 348.5,368.89 347.88,367.86 346.46,367.94 347.27,367 346.46,366.06 347.88,366.14" fill="#1a1a1a"/>
<polygon points="352.4,365.11 353.02,366.14 354.44,366.06 353.63,367 354.44,367.94 353.02,367.86 352.4,368.89 351.78,367.86 350.36,367.94 351.17,367 350.36,366.06 351.78,366.14" fill="#1a1a1a"/>
<polygon points="356.5,365.11 357.12,366.14 358.54,366.06 357.73,367 358.54,367.94 357.12,367.86 356.5,368.89 355.88,367.86 354.46,367.94 355.27,367 354.46,366.06 355.88,366.14" fill="#1a1a1a"/>
<polygon points="368.5,340.71 369.12,341.74 370.54,341.66 369.73,342.6 370.54,343.55 369.12,343.46 368.5,344.49 367.88,343.46 366.46,343.55 367.27,342.6 366.46,341.66 367.88,341.74" fill="#1a1a1a"/>
<polygon points="372.4,340.71 373.02,341.74 374.44,341.66 373.63,342.6 374.44,343.55 373.02,343.46 372.4,344.49 371.78,343.46 370.36,343.55 371.17,342.6 370.36,341.66 371.78,341.74" fill="#1a1a1a"/>
<polygon points="376.5,340.71 377.12,341.74 378.54,341.66 377.73,342.6 378.54,343.55 377.12,343.46 376.5,344.49 375.88,343.46 374.46,343.55 375.27,342.6 374.46,341.66 375.88,341.74" fill="#1a1a1a"/>
<polygon points="400.5,421.71 401.12,422.74 402.54,422.66 401.73,423.6 402.54,424.55 401.12,424.46 400.5,425.49 399.88,424.46 398.46,424.55 399.27,423.6 398.46,422.66 399.88,422.74" fill="#1a1a1a"/>
<polygon points="404.4,421.71 405.02,422.74 406.44,422.66 405.63,423.6 406.44,424.55 405.02,424.46 404.4,425.49 403.78,424.46 402.36,424.55 403.17,423.6 402.36,422.66 403.78,422.74" fill="#1a1a1a"/>
<polygon points="408.8,421.71 409.42,422.74 410.84,422.66 410.03,423.6 410.84,424.55 409.42,424.46 408.8,425.49 408.18,424.46 406.76,424.55 407.57,423.6 406.76,422.66 408.18,422.74" fill="#1a1a1a"/>
<polygon points="419.7,349.11 420.32,350.14 421.74,350.06 420.93,351 421.74,351.94 420.32,351.86 419.7,352.89 419.08,351.86 417.66,351.94 418.47,351 417.66,350.06 419.08,350.14" fill="#1a1a1a"/>
<polygon points="424,349.11 424.62,350.14 426.04,350.06 425.23,351 426.04,351.94 424.62,351.86 424,352.89 423.38,351.86 421.96,351.94 422.77,351 421.96,350.06 423.38,350.14" fill="#1a1a1a"/>
<polygon points="428.2,349.11 428.82,350.14 430.24,350.06 429.43,351 430.24,351.94 428.82,351.86 428.2,352.89 427.58,351.86 426.16,351.94 426.97,351 426.16,350.06 427.58,350.14" fill="#1a1a1a"/>
<rect x="446.2" y="292.5" width="18.1" height="5.8" fill="#000"/>
<rect x="446.2" y="312.2" width="18.1" height="6.8" fill="#fff"/>
<rect x="446.2" y="312.2" width="18.1" height="1" fill="#000"/>
<rect x="446.2" y="312.2" width="0.9" height="6.8" fill="#000"/>
<rect x="463.4" y="312.2" width="0.9" height="6.8" fill="#000"/>
<rect x="446.2" y="316.1" width="3.62" height="2.9" fill="#000"/>
<rect x="449.82" y="313.2" width="3.62" height="2.9" fill="#000"/>
<rect x="453.44" y="316.1" width="3.62" height="2.9" fill="#000"/>
<rect x="457.06" y="313.2" width="3.62" height="2.9" fill="#000"/>
<rect x="460.68" y="316.1" width="3.62" height="2.9" fill="#000"/>
<rect x="446.7" y="334.1" width="17.1" height="5.9" fill="#fff" stroke="#000" stroke-width="1"/>
<line x1="446.7" y1="338.43" x2="463.8" y2="338.43" stroke="#000" stroke-width="0.9"/>
<text x="474.4" y="299.3" textLength="37.6" lengthAdjust="spacingAndGlyphs" font-family='"Liberation Sans", sans-serif' fill="#111" style="font-kerning:none"><tspan font-size="11.7">Control</tspan></text>
<text x="474.4" y="319.1" textLength="72.9" lengthAdjust="spacingAndGlyphs" font-family='"Liberation Sans", sans-serif' fill="#111" style="font-kerning:none"><tspan font-size="11.7">NH</tspan><tspan font-size="8.5" dy="2.8">2</tspan><tspan font-size="11.7" dy="-2.8">-PS ( µm)</tspan></text><path transform="translate(521.221,319.1) scale(0.006,-0.006)" d="M716 0L544 0L544 1100Q482 1040 381 980Q280 921 200 891L200 1058Q345 1126 454 1223Q563 1320 608 1409L716 1409Z" fill="#111"/>
<text x="474.4" y="340.5" textLength="80" lengthAdjust="spacingAndGlyphs" font-family='"Liberation Sans", sans-serif' fill="#111" style="font-kerning:none"><tspan font-size="11.7">NH</tspan><tspan font-size="8.5" dy="2.8">2</tspan><tspan font-size="11.7" dy="-2.8">-PS ( 2µm)</tspan></text><path transform="translate(521.687,340.5) scale(0.006,-0.006)" d="M716 0L544 0L544 1100Q482 1040 381 980Q280 921 200 891L200 1058Q345 1126 454 1223Q563 1320 608 1409L716 1409Z" fill="#111"/>
</g>
</svg></body></html>
